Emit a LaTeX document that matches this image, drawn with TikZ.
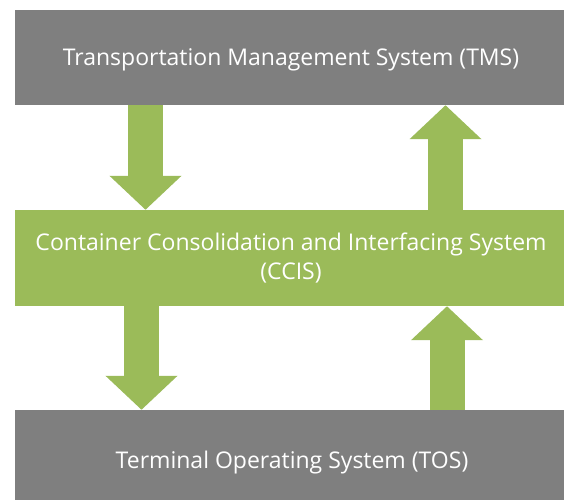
\documentclass[tikz,border=0pt]{standalone}
\usepackage{fontspec}
\setmainfont{Open Sans}
\usetikzlibrary{arrows.meta}

\definecolor{sysgray}{HTML}{7F7F7F}
\definecolor{sysgreen}{HTML}{9BBB59}

\tikzstyle{sysbox} = [rectangle, inner sep=0pt, minimum width=549pt]
\tikzstyle{syslabel} = [text=white, font=\fontsize{23}{29}\selectfont, align=center]
\tikzstyle{flowarrow} = [draw=sysgreen, line width=35pt, -{Triangle[width=70pt, length=34pt, sharp]}, sysgreen]

\begin{document}
\begin{tikzpicture}[x=1pt, y=1pt]
	\useasboundingbox (0,0) rectangle (564,-499);
	\fill[white] (0,0) rectangle (564,-499);
	\node [sysbox, fill=sysgray, minimum height=95pt] (tms) at (289.5,-57.5) {};
	\node [syslabel] (tmslabel) at (291,-59.5) {Transportation Management System (TMS)};
	\node [sysbox, fill=sysgreen, minimum height=96pt] (ccis) at (289.5,-258) {};
	\node [syslabel] (ccislabel) at (291,-258.5) {Container Consolidation and Interfacing System\\(CCIS)};
	\node [sysbox, fill=sysgray, minimum height=104pt] (tos) at (289.5,-462) {};
	\node [syslabel] (toslabel) at (292,-462.5) {Terminal Operating System (TOS)};
	% arrows between the systems
	\draw [flowarrow] (tms.south -| 145.5,0) -- (ccis.north -| 145.5,0);
	\draw [flowarrow] (ccis.north -| 445.5,0) -- (tms.south -| 445.5,0);
	\draw [flowarrow] (ccis.south -| 141.5,0) -- (tos.north -| 141.5,0);
	\draw [flowarrow] (tos.north -| 447,0) -- (ccis.south -| 447,0);
\end{tikzpicture}
\end{document}
